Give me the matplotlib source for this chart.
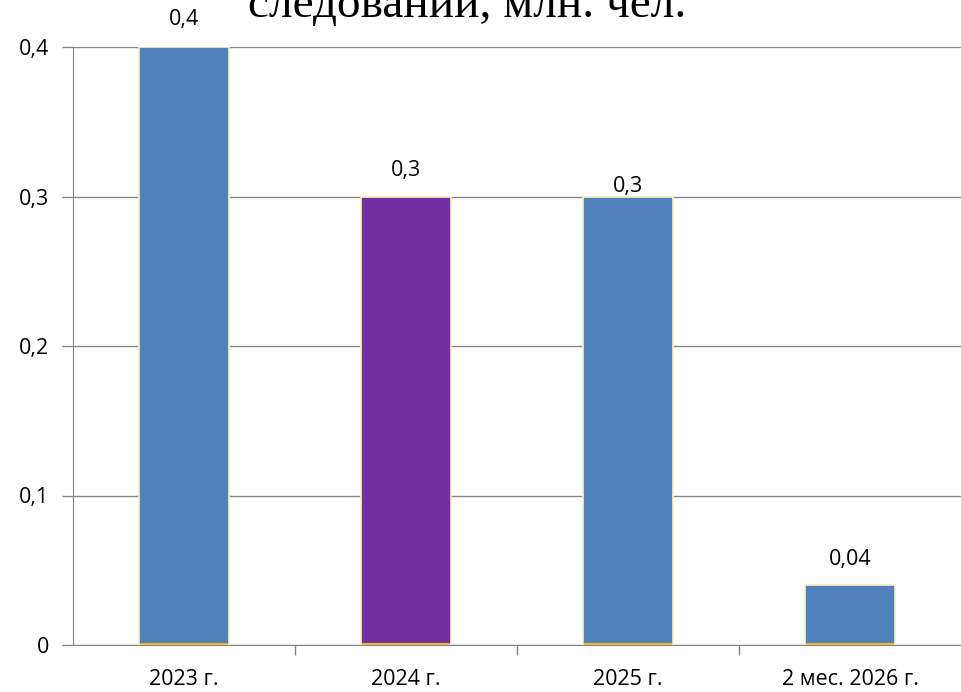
import matplotlib as mpl
mpl.use("Agg")
import matplotlib.pyplot as plt

categories = ["2023 г.", "2024 г.", "2025 г.", "2 мес. 2026 г."]
values = [0.4, 0.3, 0.3, 0.04]
value_labels = ["0,4", "0,3", "0,3", "0,04"]
bar_colors = ["#4f81bd", "#7030a0", "#4f81bd", "#4f81bd"]
yticks = [0, 0.1, 0.2, 0.3, 0.4]
ytick_labels = ["0", "0,1", "0,2", "0,3", "0,4"]
title = "следований, млн. чел."

plt.rcParams["font.family"] = ["Open Sans", "DejaVu Sans"]

fig = plt.figure(figsize=(9.61, 6.92), dpi=100)
ax = fig.add_axes([73 / 961, 47 / 692, 888 / 961, 598 / 692])

x = list(range(len(categories)))
ax.bar(x, values, width=0.405, color=bar_colors, zorder=3,
       edgecolor="#fff0c0", linewidth=1.2)
# thin orange line at the bar bottoms
for xi in x:
    ax.plot([xi - 0.2, xi + 0.2], [0.0005, 0.0005], color="#f2b632",
            lw=1.5, zorder=4, solid_capstyle="butt")

offsets = [27, 26, 10, 26]
for xi, v, lab, off in zip(x, values, value_labels, offsets):
    ax.annotate(lab, (xi, v), xytext=(0, off), textcoords="offset pixels",
                ha="center", va="center", fontsize=15.5, color="#000000")

ax.set_xlim(-0.5, 3.5)
ax.set_ylim(0, 0.4)
ax.set_yticks(yticks)
ax.set_yticklabels(ytick_labels, fontsize=15.5)
ax.yaxis.grid(True, color="#868686", lw=1, zorder=0)
ax.set_xticks(x)
ax.set_xticklabels(categories, fontsize=15.5)
ax.tick_params(axis="x", length=0, pad=17)
ax.set_xticks([0.5, 1.5, 2.5], minor=True)
ax.tick_params(axis="x", which="minor", length=7, color="#868686", width=1)
ax.tick_params(axis="y", length=8, color="#868686", width=1, pad=9)

for s in ["top", "right"]:
    ax.spines[s].set_visible(False)
ax.spines["left"].set_color("#868686")
ax.spines["bottom"].set_color("#868686")

# title line is partly cut off at the top edge, as in the source
fig.text(467 / 961, 1 - 17 / 692, title, ha="center", va="baseline",
         fontsize=34, family=["Liberation Serif", "DejaVu Serif"])

fig.savefig("out.png", dpi=100)
